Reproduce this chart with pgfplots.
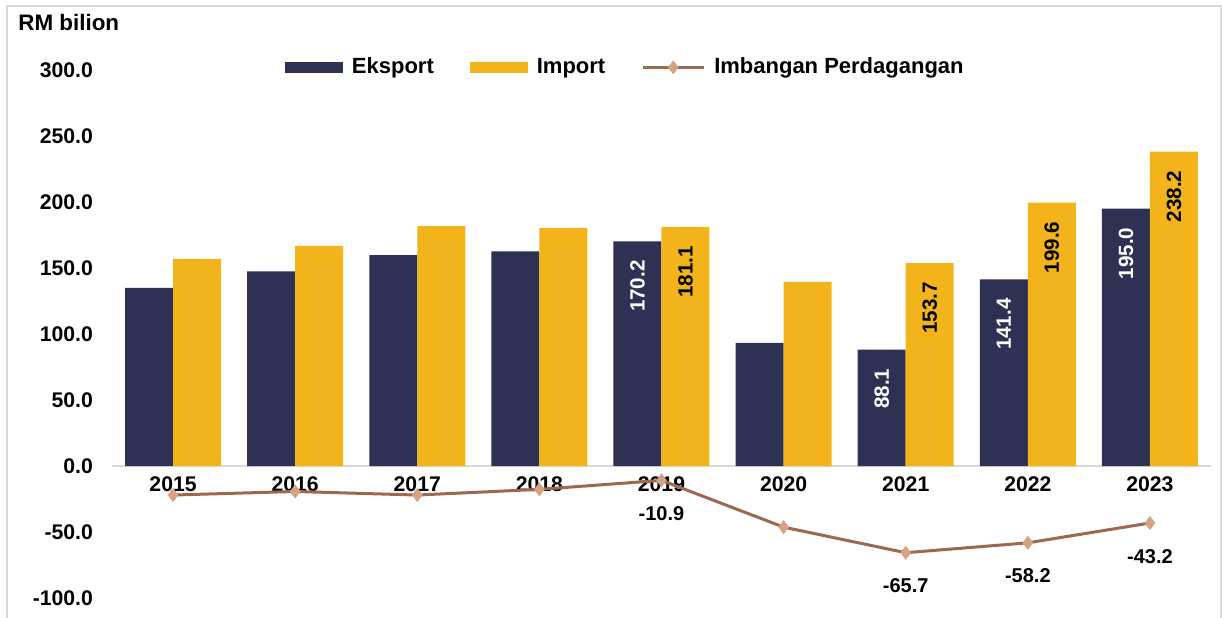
\documentclass[border=0pt]{standalone}
\usepackage{pgfplots}
\pgfplotsset{compat=1.18}
\usepackage{pgfplotstable}
\usepackage{fontspec}
\setmainfont{Liberation Sans}
\definecolor{eks}{RGB}{46,48,84}
\definecolor{imp}{RGB}{242,179,27}
\definecolor{balline}{RGB}{158,104,78}
\definecolor{balmark}{RGB}{214,162,132}
\definecolor{framegray}{RGB}{217,217,217}
\pgfplotsset{
  wideswatch/.style={legend image code/.code={\fill[##1] (0pt,-2.75pt) rectangle (29pt,2.75pt);}},
  widelinelegend/.style={legend image code/.code={\draw[##1, mark repeat=2, mark phase=2] plot coordinates {(0pt,0pt) (15.25pt,0pt) (30.5pt,0pt)};}},
}
\pgfplotstableread{
x E Elab I Ilab B Blab
0 135.0 {} 157.0 {} -22.0 {}
1 147.5 {} 166.8 {} -19.3 {}
2 159.8 {} 181.8 {} -22.0 {}
3 162.6 {} 180.3 {} -17.7 {}
4 170.2 170.2 181.1 181.1 -10.9 -10.9
5 93.2 {} 139.5 {} -46.3 {}
6 88.1 88.1 153.7 153.7 -65.7 -65.7
7 141.4 141.4 199.6 199.6 -58.2 -58.2
8 195.0 195.0 238.2 238.2 -43.2 -43.2
}\data
\begin{document}
\begin{tikzpicture}[font=\fontsize{10.6}{12.5}\selectfont\bfseries]
\path[use as bounding box] (0,0) rectangle (611pt,308.5pt);
\draw[framegray, line width=1pt] (3.25pt,-2pt) -- (3.25pt,305.25pt) -- (610.25pt,305.25pt) -- (610.25pt,-2pt);
\node[anchor=west, inner sep=0pt, font=\fontsize{11.2}{13}\selectfont\bfseries] at (9pt,297.5pt) {RM bilion};
\begin{axis}[
  at={(56pt,9.5pt)}, anchor=south west,
  scale only axis, width=549.5pt, height=264pt,
  xmin=-0.5, xmax=8.5, ymin=-100, ymax=300,
  axis x line*=middle, axis y line*=left,
  x axis line style={draw=framegray, line width=0.75pt},
  y axis line style={draw=none},
  major tick length=0pt,
  xtick={0,...,8},
  xticklabels={2015,2016,2017,2018,2019,2020,2021,2022,2023},
  xticklabel style={yshift=-2pt},
  ytick={-100,-50,0,50,100,150,200,250,300},
  yticklabel style={xshift=-6pt, /pgf/number format/.cd, fixed, fixed zerofill, precision=1, assume math mode=true},
  /pgf/number format/assume math mode=true,
  clip=false,
  legend columns=3,
  legend style={draw=none, fill=none, at={(0.157,1.005)}, anchor=west, inner xsep=0pt,
    font=\fontsize{11}{13}\selectfont\bfseries,
    /tikz/every odd column/.append style={column sep=2.5pt},
    /tikz/every even column/.append style={column sep=16pt}},
  legend cell align=left,
]
\addplot[ybar, bar width=24pt, bar shift=-12pt, fill=eks, draw=none, wideswatch,
  point meta=explicit symbolic,
  nodes near coords,
  nodes near coords style={xshift=-12pt, yshift=-6pt, rotate=90, anchor=east, text=white, font=\fontsize{10.3}{12}\selectfont\bfseries}]
  table[x=x, y=E, meta=Elab] {\data};
\addlegendentry{Eksport}
\addplot[ybar, bar width=24pt, bar shift=12pt, fill=imp, draw=none, wideswatch,
  point meta=explicit symbolic,
  nodes near coords,
  nodes near coords style={xshift=12pt, yshift=-6pt, rotate=90, anchor=east, text=black, font=\fontsize{10.3}{12}\selectfont\bfseries}]
  table[x=x, y=I, meta=Ilab] {\data};
\addlegendentry{Import}
\addplot[sharp plot, color=balline, line width=1.5pt, mark=diamond*,
  mark size=3.2pt, mark options={fill=balmark, draw=balmark, line width=0.4pt},
  widelinelegend,
  point meta=explicit symbolic,
  nodes near coords,
  nodes near coords style={anchor=north, yshift=-9.5pt, text=black, font=\fontsize{10}{12}\selectfont\bfseries}]
  table[x=x, y=B, meta=Blab] {\data};
\addlegendentry{Imbangan Perdagangan}
\end{axis}
\end{tikzpicture}
\end{document}
